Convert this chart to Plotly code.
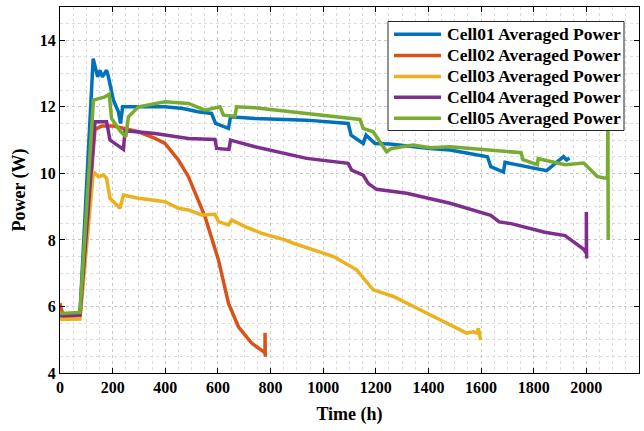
import plotly.graph_objects as go

# Averaged power of each cell over time (hours, watts)
cell01_t = [0, 76, 126, 143, 152, 161, 177, 184, 203, 222, 230, 238, 300, 399, 467, 524, 576, 591, 640, 648,
            741, 937, 1095, 1106, 1152, 1163, 1197, 1254, 1406, 1482, 1624, 1637, 1685, 1691, 1849, 1887,
            1913, 1925, 1936]
cell01_p = [5.75, 5.8, 13.45, 12.9, 13.1, 12.9, 13.1, 12.9, 12.2, 11.85, 11.5, 12.0, 12.0, 12.0, 11.95, 11.85,
            11.8, 11.5, 11.35, 11.7, 11.65, 11.6, 11.5, 11.15, 10.9, 11.15, 10.9, 10.88, 10.75, 10.7, 10.5,
            10.2, 10.04, 10.33, 10.08, 10.33, 10.5, 10.4, 10.46]

cell02_t = [0, 12, 76, 133, 158, 203, 298, 361, 399, 437, 450, 488, 513, 551, 602, 640, 678, 728, 773, 779,
            779, 780]
cell02_p = [6.1, 5.7, 5.72, 11.32, 11.42, 11.42, 11.25, 11.05, 10.9, 10.55, 10.4, 9.9, 9.4, 8.7, 7.4, 6.1,
            5.39, 4.9, 4.64, 4.6, 5.21, 4.49]

cell03_t = [0, 76, 127, 146, 165, 177, 190, 228, 241, 298, 399, 450, 488, 538, 589, 602, 640, 652, 703, 766,
            855, 887, 1039, 1127, 1190, 1267, 1368, 1469, 1545, 1570, 1583, 1590, 1598]
cell03_p = [5.61, 5.62, 10.05, 9.9, 9.95, 9.85, 9.25, 8.95, 9.35, 9.25, 9.15, 8.95, 8.9, 8.75, 8.77, 8.55,
            8.45, 8.6, 8.4, 8.2, 8.0, 7.9, 7.5, 7.1, 6.5, 6.3, 5.9, 5.5, 5.2, 5.24, 5.2, 5.34, 4.99]

cell04_t = [0, 76, 133, 177, 190, 241, 247, 361, 488, 589, 595, 642, 648, 741, 937, 1095, 1108, 1152, 1171,
            1203, 1317, 1406, 1482, 1637, 1669, 1714, 1842, 1919, 1983, 1990, 2000, 2000, 2001]
cell04_p = [5.72, 5.74, 11.55, 11.55, 11.0, 10.72, 11.28, 11.2, 11.05, 11.02, 10.75, 10.72, 11.0, 10.8,
            10.45, 10.3, 10.1, 9.95, 9.7, 9.52, 9.4, 9.25, 9.1, 8.74, 8.54, 8.49, 8.23, 8.13, 7.78, 7.72,
            7.6, 8.84, 7.44]

cell05_t = [0, 76, 127, 171, 187, 196, 228, 250, 260, 298, 399, 488, 551, 608, 621, 665, 671, 741, 937, 1140,
            1152, 1190, 1241, 1260, 1342, 1406, 1482, 1752, 1759, 1814, 1817, 1919, 1990, 2041, 2067, 2080,
            2082, 2083]
cell05_p = [5.79, 5.82, 12.2, 12.3, 12.38, 11.65, 11.28, 11.1, 11.7, 12.0, 12.15, 12.1, 11.9, 12.0, 11.75,
            11.72, 12.0, 11.97, 11.8, 11.62, 11.35, 11.25, 10.65, 10.75, 10.85, 10.77, 10.8, 10.62, 10.41,
            10.26, 10.44, 10.26, 10.31, 9.91, 9.86, 9.86, 11.6, 8.0]

series_names = ["Cell01 Averaged Power", "Cell02 Averaged Power", "Cell03 Averaged Power",
                "Cell04 Averaged Power", "Cell05 Averaged Power"]
series_t = [cell01_t, cell02_t, cell03_t, cell04_t, cell05_t]
series_p = [cell01_p, cell02_p, cell03_p, cell04_p, cell05_p]
colors = ["#0072BD", "#D95319", "#EDB120", "#7E2F8E", "#77AC30"]

x_ticks = list(range(0, 2201, 200))
y_ticks = [4, 6, 8, 10, 12, 14]

FONT = "Liberation Serif"
W, H = 644, 431
M_L, M_R, M_T, M_B = 60, 5, 7, 58
PW, PH = W - M_L - M_R, H - M_T - M_B


def px_x(px):
    return (px - M_L) / PW


def px_y(py):
    return 1 - (py - M_T) / PH


fig = go.Figure()
for name, t, p, color in zip(series_names, series_t, series_p, colors):
    fig.add_trace(go.Scatter(x=t, y=p, mode="lines", name=name, showlegend=False,
                             line=dict(color=color, width=3.5)))

axis_common = dict(
    showline=True, linecolor="black", linewidth=1, mirror="ticks",
    ticks="inside", ticklen=5, tickcolor="black", tickwidth=1,
    showgrid=True, gridcolor="#c8c8c8", griddash="dot", gridwidth=1,
    zeroline=False,
    tickfont=dict(family=FONT, size=16, color="black", weight="bold"),
)

fig.update_xaxes(
    range=[0, 2200], tickvals=x_ticks,
    minor=dict(dtick=50, showgrid=True, gridcolor="#dcdcdc", griddash="dot", ticks=""),
    title=dict(text="Time (h)", font=dict(family=FONT, size=18, color="black", weight="bold"),
               standoff=12),
    **axis_common,
)
fig.update_yaxes(
    range=[4, 15], tickvals=y_ticks,
    minor=dict(dtick=0.5, showgrid=True, gridcolor="#dcdcdc", griddash="dot", ticks=""),
    title=dict(text="Power (W)", font=dict(family=FONT, size=18, color="black", weight="bold"),
               standoff=9),
    **axis_common,
)

# Legend box drawn on top of the curves
shapes = [dict(type="rect", xref="paper", yref="paper", layer="above",
               x0=px_x(388), x1=px_x(624), y0=px_y(130.5), y1=px_y(21.5),
               fillcolor="white", line=dict(color="#262626", width=1))]
annotations = []
row_y = [34.3, 55.5, 76.5, 97.3, 118.2]
for name, color, ry in zip(series_names, colors, row_y):
    shapes.append(dict(type="line", xref="paper", yref="paper", layer="above",
                       x0=px_x(394), x1=px_x(441), y0=px_y(ry), y1=px_y(ry),
                       line=dict(color=color, width=3.5)))
    annotations.append(dict(xref="paper", yref="paper", x=px_x(445), y=px_y(ry),
                            xanchor="left", yanchor="middle", showarrow=False, text=name,
                            font=dict(family=FONT, size=17.5, color="black", weight="bold")))

fig.update_layout(
    width=W, height=H,
    margin=dict(l=M_L, r=M_R, t=M_T, b=M_B),
    paper_bgcolor="white", plot_bgcolor="white",
    font=dict(family=FONT, color="black"),
    shapes=shapes, annotations=annotations,
)

fig.write_html("out.html")
